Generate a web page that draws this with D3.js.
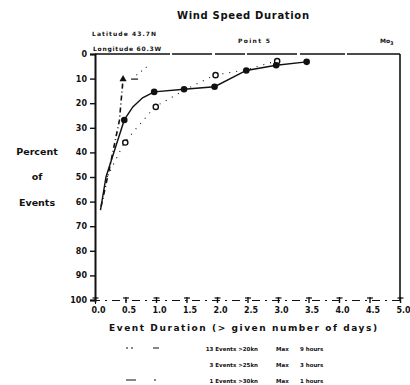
<!DOCTYPE html>
<html><head><meta charset="utf-8">
<script src="https://cdn.jsdelivr.net/npm/d3@7"></script>
<style>
html,body{margin:0;padding:0;background:#fff;}
svg{display:block;}
text{font-family:"DejaVu Sans",sans-serif;font-weight:bold;fill:#111;}
</style></head>
<body><svg id="c" width="410" height="385"></svg>
<script>
// ---- data ----
const yTicks = [0,10,20,30,40,50,60,70,80,90,100];
const xTicks = [0,0.5,1,1.5,2,2.5,3,3.5,4,4.5,5];
const xTickLabels = ["0.0","0.5","1.0","1.5","2.0","2.5","3.0","3.5","4.0","4.5","5.0"];
// solid series, filled markers
const solidDays = [0.09,0.18,0.48,0.62,0.78,0.97,1.46,1.96,2.48,2.97,3.47];
const solidPct  = [63.5,50,26.8,21.5,17.8,15.4,14.3,13.3,6.7,4.6,3.2];
const solidMarked = [false,false,true,false,false,true,true,true,true,true,true];
// dotted series, open markers
const dotDays = [0.2,0.48,0.98,1.47,1.96,2.48,2.97];
const dotPct  = [50,36,21.5,14.6,8.6,6.4,2.9];
const dotMarked = [false,true,true,false,true,false,true];
// dash-dot series, triangle marker at the end
const ddDays = [0.1,0.25,0.4,0.46];
const ddPct  = [62,45,27,10.2];
const ddTailDays = [0.68,0.88];
const ddTailPct  = [8.6,4.6];
const legendCounts = ["13 Events >20kn","3 Events >25kn","1 Events >30kn"];
const legendMax = ["9 hours","3 hours","1 hours"];
const legendDash = ["2,3,2,20,6,40","0,100","10,18,2,40"];

const svg = d3.select("#c");
const x = d3.scaleLinear().domain([0,5]).range([95,400]);
const y = d3.scaleLinear().domain([0,100]).range([54,300]);

// title & notes
svg.append("text").attr("x",243).attr("y",19).attr("text-anchor","middle")
  .attr("font-size",10).attr("textLength",132).text("Wind Speed Duration");
svg.append("text").attr("x",92).attr("y",36).attr("font-size",6).attr("textLength",64).text("Latitude 43.7N");
svg.append("text").attr("x",93).attr("y",51).attr("font-size",6).attr("textLength",68).text("Longitude 60.3W");
svg.append("text").attr("x",238).attr("y",43).attr("font-size",6).attr("textLength",32).text("Point 5");
svg.append("text").attr("x",380).attr("y",43).attr("font-size",6).text("Mo").append("tspan").attr("dy",2).attr("font-size",5).text("3");

// y label
[["Percent",151],["of",176],["Events",202]].forEach(d=>{
  svg.append("text").attr("x",37).attr("y",d[1]+4).attr("text-anchor","middle").attr("font-size",9.5).text(d[0]);
});
// x label
svg.append("text").attr("x",243).attr("y",331).attr("text-anchor","middle").attr("font-size",9)
  .attr("textLength",268).text("Event Duration (> given number of days)");

// frame
svg.append("line").attr("x1",x(0)).attr("x2",x(5)).attr("y1",y(0)).attr("y2",y(0))
  .attr("stroke","#111").attr("stroke-width",1.4).attr("stroke-dasharray","75,2,40,3,30,2,50,3,45,2,60");
svg.append("line").attr("x1",x(5)).attr("x2",x(5)).attr("y1",y(0)).attr("y2",y(100))
  .attr("stroke","#111").attr("stroke-width",1.6);

// left axis
const ya = svg.append("g").attr("transform",`translate(${x(0)},0)`)
  .call(d3.axisLeft(y).tickValues(yTicks).tickSize(5).tickFormat(d3.format("d")));
ya.select(".domain").attr("stroke","#111").attr("stroke-width",2);
ya.selectAll(".tick line").attr("stroke","#111").attr("stroke-width",1.4);
ya.selectAll(".tick text").attr("font-size",8).attr("font-family","DejaVu Sans").attr("font-weight","bold").attr("x",-8);

// bottom axis
const xa = svg.append("g").attr("transform",`translate(0,${y(100)})`)
  .call(d3.axisBottom(x).tickValues(xTicks).tickSize(4).tickFormat((d,i)=>xTickLabels[i]));
xa.select(".domain").attr("stroke","#111").attr("stroke-width",1).attr("stroke-dasharray","8,5,2,5");
xa.selectAll(".tick line").attr("stroke","#111").attr("stroke-width",1.4).attr("y1",-3).attr("y2",3);
xa.selectAll(".tick").append("line").attr("x1",-3).attr("x2",3).attr("y1",-2).attr("y2",-2).attr("stroke","#111").attr("stroke-width",1.2);
xa.selectAll(".tick text").attr("font-size",8).attr("font-family","DejaVu Sans").attr("font-weight","bold").attr("dx",3).attr("y",7);

// series
const line = d3.line().x(d=>x(d[0])).y(d=>y(d[1]));
const solid = solidDays.map((d,i)=>[d,solidPct[i],solidMarked[i]]);
const dotted = dotDays.map((d,i)=>[d,dotPct[i],dotMarked[i]]);
const dd = ddDays.map((d,i)=>[d,ddPct[i]]);
const ddTail = ddTailDays.map((d,i)=>[d,ddTailPct[i]]);

svg.append("path").attr("d",line(dotted)).attr("fill","none").attr("stroke","#111")
  .attr("stroke-width",1.1).attr("stroke-dasharray","1,6");
svg.append("path").attr("d",line(dd)).attr("fill","none").attr("stroke","#111")
  .attr("stroke-width",1.6).attr("stroke-dasharray","5,3,1,3");
svg.append("path").attr("d",line(ddTail)).attr("fill","none").attr("stroke","#111")
  .attr("stroke-width",1.1).attr("stroke-dasharray","1,5");
svg.append("line").attr("x1",x(ddDays[3])+8).attr("x2",x(ddDays[3])+15)
  .attr("y1",y(ddPct[3])).attr("y2",y(ddPct[3])).attr("stroke","#111").attr("stroke-width",1.2);
svg.append("path").attr("d",line(solid))
  .attr("fill","none").attr("stroke","#111").attr("stroke-width",1.4);

svg.selectAll(".om").data(dotted.filter(d=>d[2])).join("circle")
  .attr("cx",d=>x(d[0])+1).attr("cy",d=>y(d[1])).attr("r",2.6)
  .attr("fill","#fff").attr("stroke","#111").attr("stroke-width",1.4);
svg.selectAll(".fm").data(solid.filter(d=>d[2])).join("circle")
  .attr("cx",d=>x(d[0])).attr("cy",d=>y(d[1])).attr("r",3.3).attr("fill","#111");
svg.append("path").attr("d",d3.symbol(d3.symbolTriangle,22)())
  .attr("transform",`translate(${x(ddDays[3])},${y(ddPct[3])})`).attr("fill","#111");

// legend
const ly = [348,364,380];
legendCounts.forEach((t,i)=>{
  svg.append("line").attr("x1",126).attr("x2",168).attr("y1",ly[i]).attr("y2",ly[i])
    .attr("stroke","#111").attr("stroke-width",1.2).attr("stroke-dasharray",legendDash[i]);
  svg.append("text").attr("x",258).attr("y",ly[i]+2.5).attr("text-anchor","end").attr("font-size",5.5).text(t);
  svg.append("text").attr("x",276).attr("y",ly[i]+2.5).attr("font-size",5.5).text("Max");
  svg.append("text").attr("x",300).attr("y",ly[i]+2.5).attr("font-size",5.5).text(legendMax[i]);
});
</script></body></html>
